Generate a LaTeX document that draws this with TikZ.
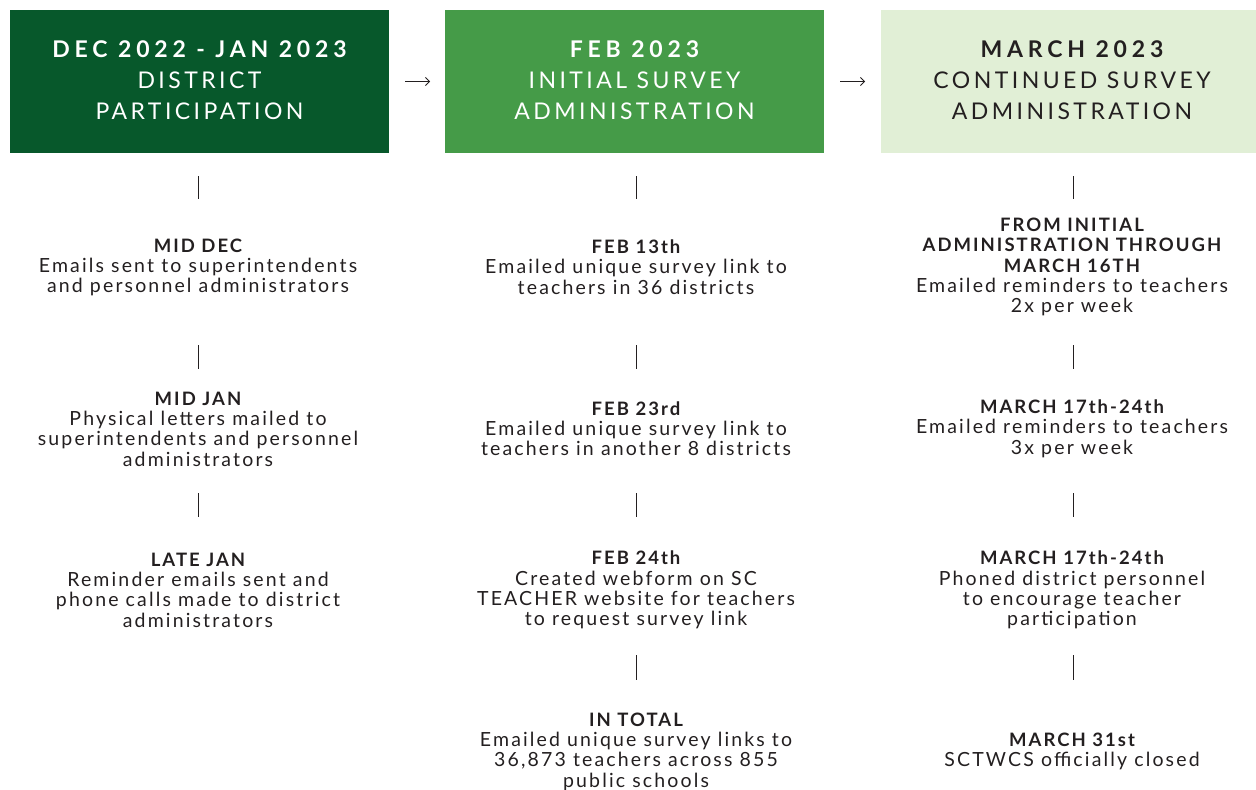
\documentclass[tikz,border=0pt]{standalone}
\usepackage{fontspec}
\setmainfont{Lato}[LetterSpace=11]
\newfontfamily\hdrfont{Lato}[LetterSpace=15]
\newfontfamily\hdrbold{Lato Bold}[LetterSpace=21]
\usetikzlibrary{arrows.meta}
\definecolor{dkgreen}{HTML}{07582B}
\definecolor{mdgreen}{HTML}{459B48}
\definecolor{ltgreen}{HTML}{E1EFD6}
\definecolor{ink}{HTML}{231F20}
\newcommand{\ttl}[1]{{\fontsize{18.5}{20.3}\selectfont\bfseries #1}}
\newcommand{\hb}[1]{{\hdrbold\fontsize{23}{31}\selectfont #1}}
\begin{document}
\begin{tikzpicture}[x=1pt,y=-1pt,
  hdrbox/.style={minimum width=379pt,minimum height=143pt,inner sep=0pt,outer sep=0pt},
  hdrtext/.style={align=center,inner sep=0pt,font=\hdrfont\fontsize{23}{31}\selectfont},
  item/.style={align=center,inner sep=0pt,text=ink,font=\fontsize{19.5}{20.3}\selectfont},
  tickline/.style={draw=ink,line width=0.9pt},
  arr/.style={draw=ink,line width=0.8pt,-{Straight Barb[length=4pt,width=8pt]}}]
\useasboundingbox (0,0) rectangle (1256,790);
% header boxes
\node[hdrbox,fill=dkgreen] (h1) at (199.5,81.5) {};
\node[hdrbox,fill=mdgreen] (h2) at (634.5,81.5) {};
\node[hdrbox,fill=ltgreen,minimum width=375pt] (h3) at (1068.5,81.5) {};
\node[hdrtext,text=white] (h1t) at (199.5,80.5) {\hb{DEC 2022 - JAN 2023}\\DISTRICT\\PARTICIPATION};
\node[hdrtext,text=white] (h2t) at (634.5,80.5) {\hb{FEB 2023}\\INITIAL SURVEY\\ADMINISTRATION};
\node[hdrtext,text=ink] (h3t) at (1072,80.5) {\hb{MARCH 2023}\\CONTINUED SURVEY\\ADMINISTRATION};
% arrows between headers
\draw[arr] ([xshift=16pt]h1.east) -- ([xshift=-15pt]h2.west);
\draw[arr] ([xshift=16pt]h2.east) -- ([xshift=-16pt]h3.west);
% ticks
\foreach \x in {198,636,1073}{
  \draw[tickline] (\x,176) -- (\x,199);
  \draw[tickline] (\x,345) -- (\x,369);
  \draw[tickline] (\x,493) -- (\x,517);
}
\foreach \x in {636,1073}{
  \draw[tickline] (\x,655) -- (\x,680);
}
% column 1
\node[item] (a1) at (198,267.5) {\ttl{MID DEC}\\Emails sent to superintendents\\and personnel administrators};
\node[item] (a2) at (198,429) {\ttl{MID JAN}\\Physical letters mailed to\\superintendents and personnel\\administrators};
\node[item] (a3) at (198,590) {\ttl{LATE JAN}\\Reminder emails sent and\\phone calls made to district\\administrators};
% column 2
\node[item] (b1) at (636,267) {\ttl{FEB 13th}\\Emailed unique survey link to\\teachers in 36 districts};
\node[item] (b2) at (636,428.5) {\ttl{FEB 23rd}\\Emailed unique survey link to\\teachers in another 8 districts};
\node[item] (b3) at (636,590) {\ttl{FEB 24th}\\Created webform on SC\\TEACHER website for teachers\\to request survey link};
\node[item] (b4) at (636,751.5) {\ttl{IN TOTAL}\\Emailed unique survey links to\\36,873 teachers across 855\\public schools};
% column 3
\node[item] (c1) at (1072,267) {\ttl{FROM INITIAL}\\\ttl{ADMINISTRATION THROUGH}\\\ttl{MARCH 16TH}\\Emailed reminders to teachers\\2x per week};
\node[item] (c2) at (1072,428.5) {\ttl{MARCH 17th-24th}\\Emailed reminders to teachers\\3x per week};
\node[item] (c3) at (1072,590) {\ttl{MARCH 17th-24th}\\Phoned district personnel\\to encourage teacher\\participation};
\node[item] (c4) at (1072,751.5) {\ttl{MARCH 31st}\\SCTWCS officially closed};
\end{tikzpicture}
\end{document}
